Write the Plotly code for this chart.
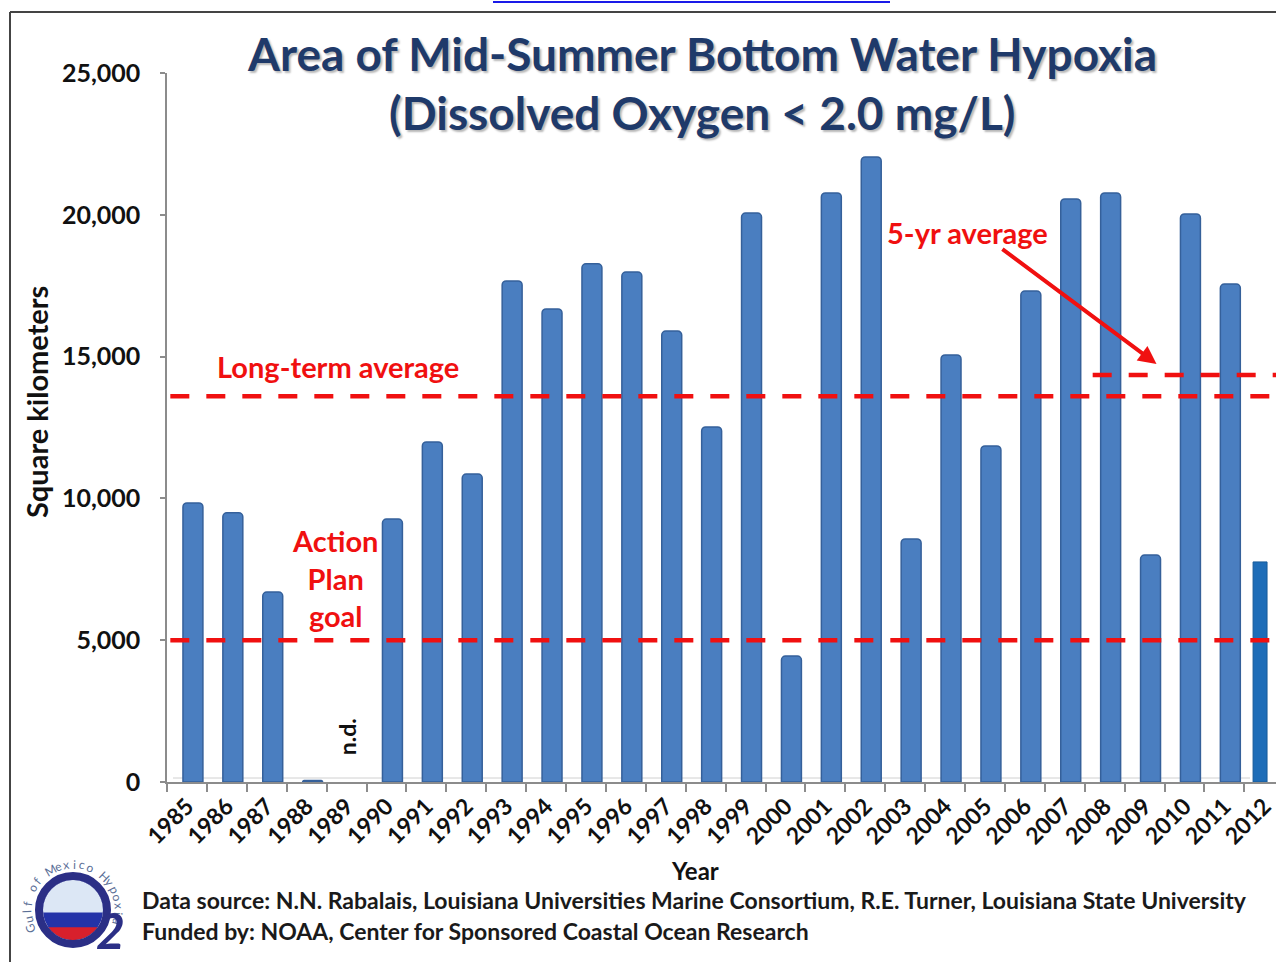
import numpy as np
import plotly.graph_objects as go

# Mid-summer bottom water hypoxia area (km2)
years = list(range(1985, 2012))
area_km2 = [9840, 9490, 6700, 50, None, 9270, 11990, 10860, 17670, 16680,
            18270, 17980, 15900, 12520, 20060, 4440, 20770, 22040, 8570, 15060,
            11850, 17310, 20560, 20770, 8000, 20030, 17560]
latest_year = [2012]
latest_area = [7760]

long_term_avg = 13600
five_yr_avg = 14350
action_plan_goal = 5000

tick_years = list(range(1985, 2013))
y_ticks = [0, 5000, 10000, 15000, 20000, 25000]

W, H = 1276, 962
L, R, T, B = 167, 0, 73, 180
FONT = "Lato"
RED = "#F01010"


def paper(x, y):
    """pixel position -> paper coordinates"""
    return (x - L) / (W - L - R), (H - B - y) / (H - T - B)


fig = go.Figure()

fig.add_trace(go.Bar(
    x=years, y=area_km2, width=0.5, offset=-0.1,
    marker=dict(color="#4A7EC0", line=dict(color="#35609A", width=1.5),
                cornerradius=4),
    showlegend=False,
))
fig.add_trace(go.Bar(
    x=latest_year, y=latest_area, width=0.35, offset=-0.28,
    marker=dict(color="#1E6DB8", line=dict(color="#175A99", width=1)),
    showlegend=False,
))

shapes = []
# reference lines
dash = "19px,17px"
shapes.append(dict(type="line", xref="paper", yref="y", x0=0.003, x1=1,
                   y0=long_term_avg, y1=long_term_avg,
                   line=dict(color=RED, width=4.5, dash=dash), layer="above"))
shapes.append(dict(type="line", xref="paper", yref="y", x0=0.003, x1=1,
                   y0=action_plan_goal, y1=action_plan_goal,
                   line=dict(color=RED, width=4.5, dash=dash), layer="above"))
shapes.append(dict(type="line", xref="x", yref="y", x0=2007.7, x1=2012.3,
                   y0=five_yr_avg, y1=five_yr_avg,
                   line=dict(color=RED, width=4.5, dash=dash), layer="above"))

# chart floor
x0, y0 = paper(173, 778)
x1, _ = paper(1250, 778)
shapes.append(dict(type="line", xref="paper", yref="paper", x0=x0, x1=x1,
                   y0=y0, y1=y0, line=dict(color="#D0D0D0", width=1), layer="below"))

# slide frame and cut-off link above it
fx, fy = paper(10, 12)
fx2, fy2 = paper(W, H)
shapes.append(dict(type="line", xref="paper", yref="paper", x0=fx, x1=fx,
                   y0=fy, y1=fy2, line=dict(color="#444444", width=2)))
shapes.append(dict(type="line", xref="paper", yref="paper", x0=fx, x1=fx2,
                   y0=fy, y1=fy, line=dict(color="#444444", width=2)))
lx0, ly = paper(493, 2)
lx1, _ = paper(890, 2)
shapes.append(dict(type="line", xref="paper", yref="paper", x0=lx0, x1=lx1,
                   y0=ly, y1=ly, line=dict(color="#1A1AE8", width=2)))

# logo: Gulf of Mexico Hypoxia O2
cx, cy, r_in, r_ring = 73, 910, 30, 34


def arc_path(a0, a1, n=40):
    ang = np.radians(np.linspace(a0, a1, n))
    pts = [paper(cx + r_in * np.cos(a), cy - r_in * np.sin(a)) for a in ang]
    d = "M " + " L ".join(f"{p[0]:.5f},{p[1]:.5f}" for p in pts)
    return d + " Z"


bx0, by0 = paper(cx - r_in, cy - r_in)
bx1, by1 = paper(cx + r_in, cy + r_in)
shapes.append(dict(type="circle", xref="paper", yref="paper", x0=bx0, x1=bx1,
                   y0=by0, y1=by1, fillcolor="#2433A8", line=dict(width=0)))
shapes.append(dict(type="path", xref="paper", yref="paper", path=arc_path(-5, 185),
                   fillcolor="#DCE7F5", line=dict(width=0)))
shapes.append(dict(type="path", xref="paper", yref="paper", path=arc_path(-145, -35),
                   fillcolor="#D8202C", line=dict(width=0)))
rx0, ry0 = paper(cx - r_ring, cy - r_ring)
rx1, ry1 = paper(cx + r_ring, cy + r_ring)
shapes.append(dict(type="circle", xref="paper", yref="paper", x0=rx0, x1=rx1,
                   y0=ry0, y1=ry1, line=dict(color="#2B2F86", width=8)))

annotations = []


def note(text, x, y, size, color="#111111", angle=0, xanchor="center", **kw):
    px_, py_ = paper(x, y)
    annotations.append(dict(text=text, x=px_, y=py_, xref="paper", yref="paper",
                            showarrow=False, textangle=angle,
                            xanchor=xanchor, yanchor="middle",
                            font=dict(family=FONT, size=size, color=color), **kw))


# logo lettering along the ring
logo_text = "Gulf of Mexico Hypoxia"
for i, ch in enumerate(logo_text):
    th = 203 - i * 10.4
    t = np.radians(th)
    note(ch, cx + 46 * np.cos(t), cy - 46 * np.sin(t), 12, "#5A6E96", angle=90 - th)
note("<b><i>2</i></b>", 110, 930, 50, "#2B2F86")

# titles and labels
title_font = dict(family=FONT, size=46, color="#1F3A6A",
                  shadow="2px 2px 2px #B8B8B8")
for txt, y in [("<b>Area of Mid-Summer Bottom Water Hypoxia</b>", 53),
               ("<b>(Dissolved Oxygen &lt; 2.0 mg/L)</b>", 112)]:
    px_, py_ = paper(702, y)
    annotations.append(dict(text=txt, x=px_, y=py_, xref="paper", yref="paper",
                            xanchor="center", yanchor="middle",
                            showarrow=False, font=title_font))

note("<b>Long-term average</b>", 338, 366, 29, RED)
note("<b>Action<br>Plan<br>goal</b>", 335, 578, 29, RED, align="center")
note("<b>5-yr average</b>", 967, 232, 29, RED)
note("<b>Year</b>", 695, 870, 24)
note("<b>Square kilometers</b>", 37, 402, 29, angle=-90)
note("<b>Data source: N.N. Rabalais, Louisiana Universities Marine Consortium, "
     "R.E. Turner, Louisiana State University</b>", 140, 900, 23, "#1A1A1A",
     xanchor="left")
note("<b>Funded by: NOAA, Center for Sponsored Coastal Ocean Research</b>",
     140, 931, 23, "#1A1A1A", xanchor="left")

# no-data marker for 1989
annotations.append(dict(text="<b>n.d.</b>", x=1989, y=1600, xref="x", yref="y",
                        showarrow=False, textangle=-90,
                        xanchor="center", yanchor="middle",
                        font=dict(family=FONT, size=23, color="#111111")))

# arrow to the 5-yr average
annotations.append(dict(x=2009.3, y=14740, ax=2005.4, ay=18830, xref="x", yref="y",
                        axref="x", ayref="y", text="", showarrow=True,
                        arrowhead=2, arrowsize=0.9, arrowwidth=4, arrowcolor=RED))

fig.update_layout(
    width=W, height=H,
    margin=dict(l=L, r=R, t=T, b=B, autoexpand=False),
    paper_bgcolor="white", plot_bgcolor="white",
    barmode="overlay",
    shapes=shapes, annotations=annotations,
    font=dict(family=FONT),
)
fig.update_xaxes(
    range=[1984.5, 1984.5 + (W - L - R) / 39.9],
    tickvals=tick_years, ticktext=[f"<b>{y}</b>" for y in tick_years],
    tickangle=-45, ticks="", showgrid=False, zeroline=False,
    showline=True, linecolor="#8C8C8C", linewidth=1.5,
    tickfont=dict(family=FONT, size=23, color="#111111"),
    minor=dict(tick0=1984.5, dtick=1, ticks="outside", ticklen=8,
               tickcolor="#8C8C8C", tickwidth=1.5, showgrid=False),
)
fig.update_yaxes(
    range=[0, 25000], tickvals=y_ticks,
    ticktext=[f"<b>{v:,}</b>" for v in y_ticks],
    ticks="outside", ticklen=5, tickcolor="#8C8C8C", tickwidth=1.5,
    showline=True, linecolor="#8C8C8C", linewidth=1.5,
    showgrid=False, zeroline=False, ticklabelstandoff=15,
    tickfont=dict(family=FONT, size=25, color="#111111"),
)

fig.write_html("out.html", config={"displayModeBar": False})

# drop the browser's default page margin so the figure sits at the corner
with open("out.html", encoding="utf-8") as f:
    page = f.read()
page = page.replace("<body>", '<body style="margin:0;overflow:hidden">', 1)
with open("out.html", "w", encoding="utf-8") as f:
    f.write(page)
